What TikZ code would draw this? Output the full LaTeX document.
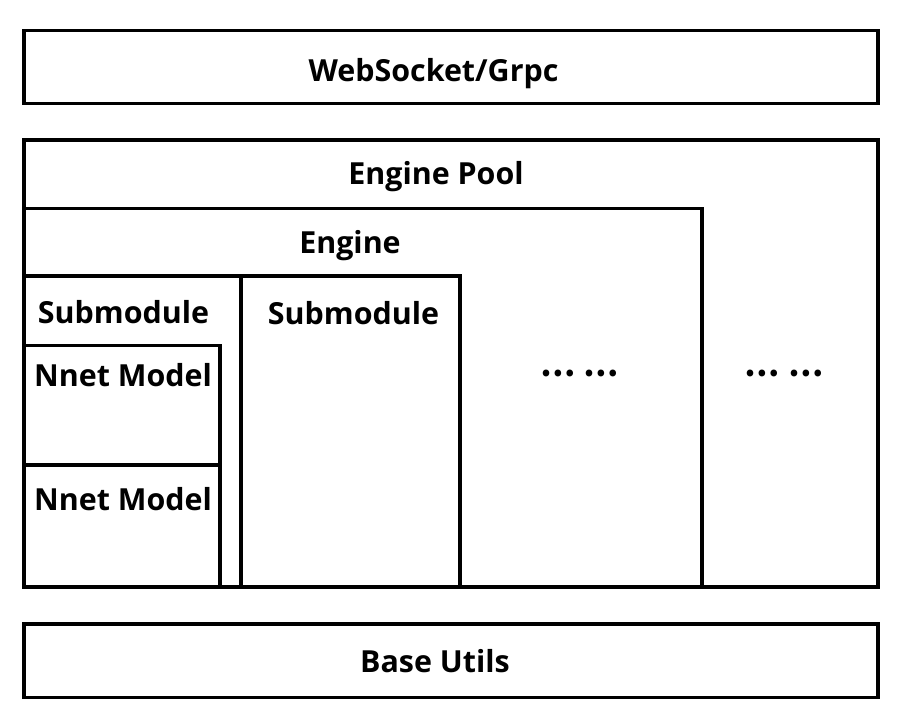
\documentclass[tikz,border=0pt]{standalone}
\usepackage{fontspec}
\setmainfont{Open Sans}
\newfontfamily\cjk{Noto Sans CJK SC}
\usepackage{tikz}

\begin{document}
\begin{tikzpicture}[x=0.75pt,y=0.75pt,yscale=-1,xscale=1,
  layer/.style={line width=2.6pt},
  lbl/.style={font=\fontsize{22.8}{27}\selectfont\bfseries, inner sep=0.75pt, anchor=base}]
\useasboundingbox (0,0) rectangle (924,724);

%Shape: Rectangle [id:top]
\draw [layer] (24,30.5) rectangle (878,103.5) ;
%Shape: Rectangle [id:pool]
\draw [layer] (24,140) rectangle (878,587) ;
%Shape: Rectangle [id:engine]
\draw [layer] (24,208.5) rectangle (702,587) ;
%Shape: Rectangle [id:sub1]
\draw [layer] (24,276) rectangle (241,587) ;
%Shape: Rectangle [id:sub2]
\draw [layer] (241,276) rectangle (460,587) ;
%Shape: Rectangle [id:nnet1]
\draw [layer] (24,345.5) rectangle (220,465) ;
%Shape: Rectangle [id:nnet2]
\draw [layer] (24,465) rectangle (220,587) ;
%Shape: Rectangle [id:base]
\draw [layer] (24,624) rectangle (878,697.5) ;

% Text Node
\node [lbl] (ws) at (433.5,81.5) {WebSocket/Grpc};
% Text Node
\node [lbl] (pool) at (436,184) {Engine Pool};
% Text Node
\node [lbl] (engine) at (350,253) {Engine};
% Text Node
\node [lbl] (suba) at (123.5,323) {Submodule};
% Text Node
\node [lbl] (subb) at (353.5,324) {Submodule};
% Text Node
\node [lbl] (nneta) at (123,386) {Nnet Model};
% Text Node
\node [lbl] (nnetb) at (123,510.5) {Nnet Model};
% Text Node
\node [lbl,font=\fontsize{23.5}{28}\selectfont\cjk\bfseries] (dotsa) at (580,376) {…\hspace{6pt}…};
% Text Node
\node [lbl,font=\fontsize{23.5}{28}\selectfont\cjk\bfseries] (dotsb) at (784,376) {…\hspace{6pt}…};
% Text Node
\node [lbl] (base) at (435,672.5) {Base Utils};

\end{tikzpicture}
\end{document}
